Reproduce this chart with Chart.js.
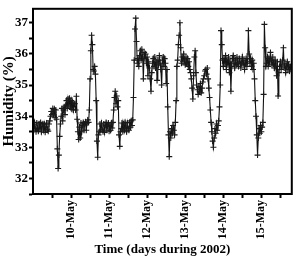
<!DOCTYPE html>
<html>
<head>
<meta charset="utf-8">
<script src="https://cdn.jsdelivr.net/npm/chart.js@4/dist/chart.umd.min.js"></script>
<style>
html,body{margin:0;padding:0;background:#fff;}
#wrap{width:297px;height:259px;}
</style>
</head>
<body>
<div id="wrap"><canvas id="c" width="297" height="259"></canvas></div>
<script>
// Sampling time base (days in May 2002) and humidity readings (%)
const startDay = 9;
const stepDays = 0.02;
const humidity = [
  // 9-May
  33.72,33.55,33.80,33.60,33.50,33.78,33.62,33.52,33.75,33.58,
  33.80,33.50,33.68,33.76,33.55,33.74,33.48,33.65,33.78,33.58,
  33.52,33.75,
  33.85,34.00,34.15,34.05,34.25,34.05,34.22,33.95,34.20,33.90,
  32.95,32.32,32.75,33.35,33.75,
  34.00,34.25,33.85,34.20,34.30,34.05,34.35,34.50,34.25,34.55,
  34.35,34.58,34.30,34.50,34.22,34.45,34.20,34.40,
  34.40,34.20,34.64,33.90,33.50,33.25,
  // 10-May
  33.65,33.30,33.78,33.50,33.70,33.80,33.55,33.75,33.82,33.55,
  33.78,33.88,33.80,
  34.20,35.20,36.10,36.60,36.30,35.50,
  35.45,35.60,35.35,
  34.50,33.20,32.68,33.40,
  33.50,33.75,33.55,33.78,33.58,33.50,33.75,33.48,33.70,33.80,
  33.55,33.68,33.78,33.52,33.72,33.55,33.78,33.62,33.80,
  34.20,34.60,34.80,34.40,34.65,34.30,34.50,
  33.40,33.03,33.50,
  33.60,33.78,33.50,33.75,33.55,33.80,33.62,33.50,33.78,33.60,
  33.55,33.80,33.65,33.85,33.70,33.88,
  // 11/12-May
  34.60,35.80,36.80,37.15,36.40,
  35.70,35.85,35.60,35.95,36.10,35.80,36.15,35.90,35.20,36.05,
  35.85,36.00,35.70,35.90,35.30,35.75,35.55,35.20,34.80,35.40,
  35.70,35.85,35.60,35.90,35.55,35.75,35.15,35.80,35.65,35.95,
  35.70,35.50,35.00,35.80,35.90,35.60,35.85,35.70,35.05,35.50,
  34.30,33.40,32.70,
  33.50,33.30,33.60,33.45,33.70,33.55,33.40,33.80,
  // 13-May
  34.50,35.60,35.80,36.30,36.60,37.00,36.20,
  35.70,35.90,35.75,36.00,35.80,35.65,35.90,35.70,35.85,35.60,
  35.75,35.50,35.40,35.20,34.90,
  34.55,35.30,35.90,36.10,35.40,
  35.00,34.85,34.70,34.95,34.80,35.05,34.75,34.90,35.10,35.20,
  35.30,35.45,
  35.50,35.35,35.55,35.20,34.90,34.60,34.20,33.80,33.50,33.20,
  33.00,33.30,33.60,33.45,33.75,33.55,33.70,33.85,34.30,35.00,
  // 14-May
  36.75,36.30,35.80,
  35.60,35.85,35.70,35.95,35.50,35.80,35.65,35.90,35.40,35.75,
  34.80,35.60,35.85,35.95,35.70,35.55,35.80,35.65,35.90,35.70,
  35.60,35.85,35.75,35.55,35.70,35.90,35.65,35.80,35.50,35.70,
  35.85,35.60,35.75,
  36.75,36.00,
  35.70,35.85,35.60,35.80,35.50,35.70,35.20,
  34.50,34.00,33.40,32.75,33.30,33.60,33.45,33.70,33.50,33.65,
  33.80,34.70,
  // 15-May
  36.95,36.20,35.60,
  35.70,35.90,35.60,35.85,35.75,36.05,35.80,35.65,35.90,35.70,
  35.55,35.80,35.60,35.30,35.75,34.65,35.40,35.60,35.75,35.50,
  35.65,35.80,36.20,35.55,35.70,35.40,35.60,35.75,35.50,35.65,
  35.45,35.60,35.50
];
const dayTicks = [10,11,12,13,14,15];
const dayLabels = ['10-May','11-May','12-May','13-May','14-May','15-May'];
const yLabels = [32,33,34,35,36,37];

const points = humidity.map((v,i)=>({x: startDay + i*stepDays, y: v}));

const FONT = "'Liberation Serif','Times New Roman',serif";

const frame = {
  id:'frame',
  afterDatasetsDraw(chart){
    const a = chart.chartArea, ctx = chart.ctx;
    ctx.save();
    ctx.strokeStyle = '#000';
    ctx.lineWidth = 2;
    ctx.strokeRect(a.left, a.top, a.right - a.left, a.bottom - a.top);
    ctx.restore();
  }
};

new Chart(document.getElementById('c'), {
  type: 'scatter',
  data: {
    datasets: [{
      data: points,
      showLine: true,
      borderColor: '#111',
      borderWidth: 1.1,
      pointStyle: 'cross',
      pointRadius: 3,
      pointBorderColor: '#1a1a1a',
      pointBorderWidth: 1.1,
      pointBackgroundColor: '#1a1a1a',
      tension: 0
    }]
  },
  options: {
    responsive: false,
    animation: false,
    devicePixelRatio: 1,
    layout: { padding: { top: 2, right: 2, left: 0, bottom: 0 } },
    plugins: { legend: { display: false }, tooltip: { enabled: false } },
    scales: {
      x: {
        type: 'linear',
        min: 9, max: 15.8,
        afterBuildTicks(scale){
          const t = [];
          for (let k = 19; k <= 31; k++) t.push({value: k/2});
          scale.ticks = t;
        },
        afterFit(scale){ scale.height = 65; },
        ticks: {
          autoSkip: false,
          maxRotation: 90, minRotation: 90,
          padding: 2,
          color: '#000',
          font: { family: FONT, size: 12, weight: 'bold' },
          callback(v){ const i = dayTicks.indexOf(v); return i >= 0 ? dayLabels[i] : ''; }
        },
        grid: { drawOnChartArea: false, drawTicks: true, tickLength: 4, tickWidth: 2, tickColor: '#000' },
        border: { display: true, color: '#000', width: 2 },
        title: { display: true, text: 'Time (days during 2002)', color: '#000',
                 font: { family: FONT, size: 13, weight: 'bold' }, padding: { top: 0, bottom: 2 } }
      },
      y: {
        min: 31.5, max: 37.45,
        afterBuildTicks(scale){
          const t = [];
          for (let k = 63; k <= 74; k++) t.push({value: k/2});
          scale.ticks = t;
        },
        afterFit(scale){ scale.width = 33; },
        ticks: {
          autoSkip: false,
          padding: 1,
          color: '#000',
          font: { family: FONT, size: 13, weight: 'bold' },
          callback(v){ return yLabels.includes(v) ? String(v) : ''; }
        },
        grid: { drawOnChartArea: false, drawTicks: true, tickLength: 4, tickWidth: 2, tickColor: '#000' },
        border: { display: true, color: '#000', width: 2 },
        title: { display: true, text: 'Humidity (%)', color: '#000',
                 font: { family: FONT, size: 15, weight: 'bold' }, padding: { top: 0, bottom: 0 } }
      }
    }
  },
  plugins: [frame]
});
</script>
</body>
</html>
